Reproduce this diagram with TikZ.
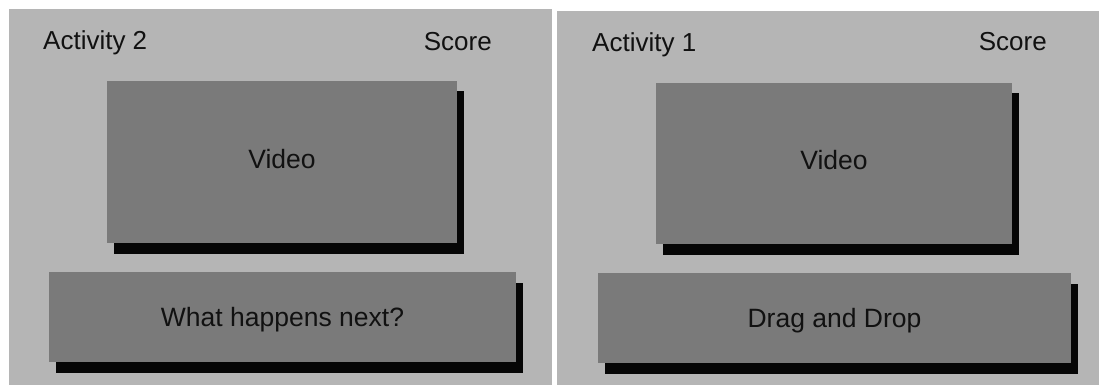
\documentclass[tikz,border=0pt]{standalone}
\usepackage{fontspec}
\setmainfont{Liberation Sans}
\usetikzlibrary{shadows}
\definecolor{panelgray}{HTML}{B5B5B5}
\definecolor{boxgray}{HTML}{7A7A7A}
\definecolor{shadowblack}{HTML}{060606}
\definecolor{inkblack}{HTML}{111111}
\begin{document}
\begin{tikzpicture}[x=1pt,y=-1pt,
  panel/.style={fill=panelgray,draw=none},
  screenbox/.style={rectangle,fill=boxgray,draw=none,inner sep=0pt,
    text=inkblack,font=\fontsize{26.5}{31}\selectfont,
    text height=19pt,text depth=0pt,
    general shadow={shadow xshift=6.5pt,shadow yshift=-10.5pt,fill=shadowblack,opacity=1}},
  heading/.style={anchor=base,inner sep=0pt,text=inkblack,font=\fontsize{26}{30}\selectfont}]
\useasboundingbox[fill=white] (0,0) rectangle (1099,385);
% panels
\path[panel] (9,9) rectangle (552,385);
\path[panel] (557,11) rectangle (1099,385);
% left panel
\node[heading,anchor=base west] (act2) at (43,50) {Activity 2};
\node[heading,anchor=base east] (score2) at (492,51) {Score};
\node[screenbox,minimum width=350pt,minimum height=162pt] (video2) at (282,162) {\raisebox{3.5pt}{Video}};
\node[screenbox,minimum width=467pt,minimum height=90pt] (quiz2) at (282.5,317) {What happens next?};
% right panel
\node[heading,anchor=base west] (act1) at (592,52) {Activity 1};
\node[heading,anchor=base east] (score1) at (1047,51) {Score};
\node[screenbox,minimum width=356pt,minimum height=161pt] (video1) at (834,163.5) {\raisebox{3.5pt}{Video}};
\node[screenbox,minimum width=473pt,minimum height=90pt] (quiz1) at (834.5,318) {Drag and Drop};
\end{tikzpicture}
\end{document}
